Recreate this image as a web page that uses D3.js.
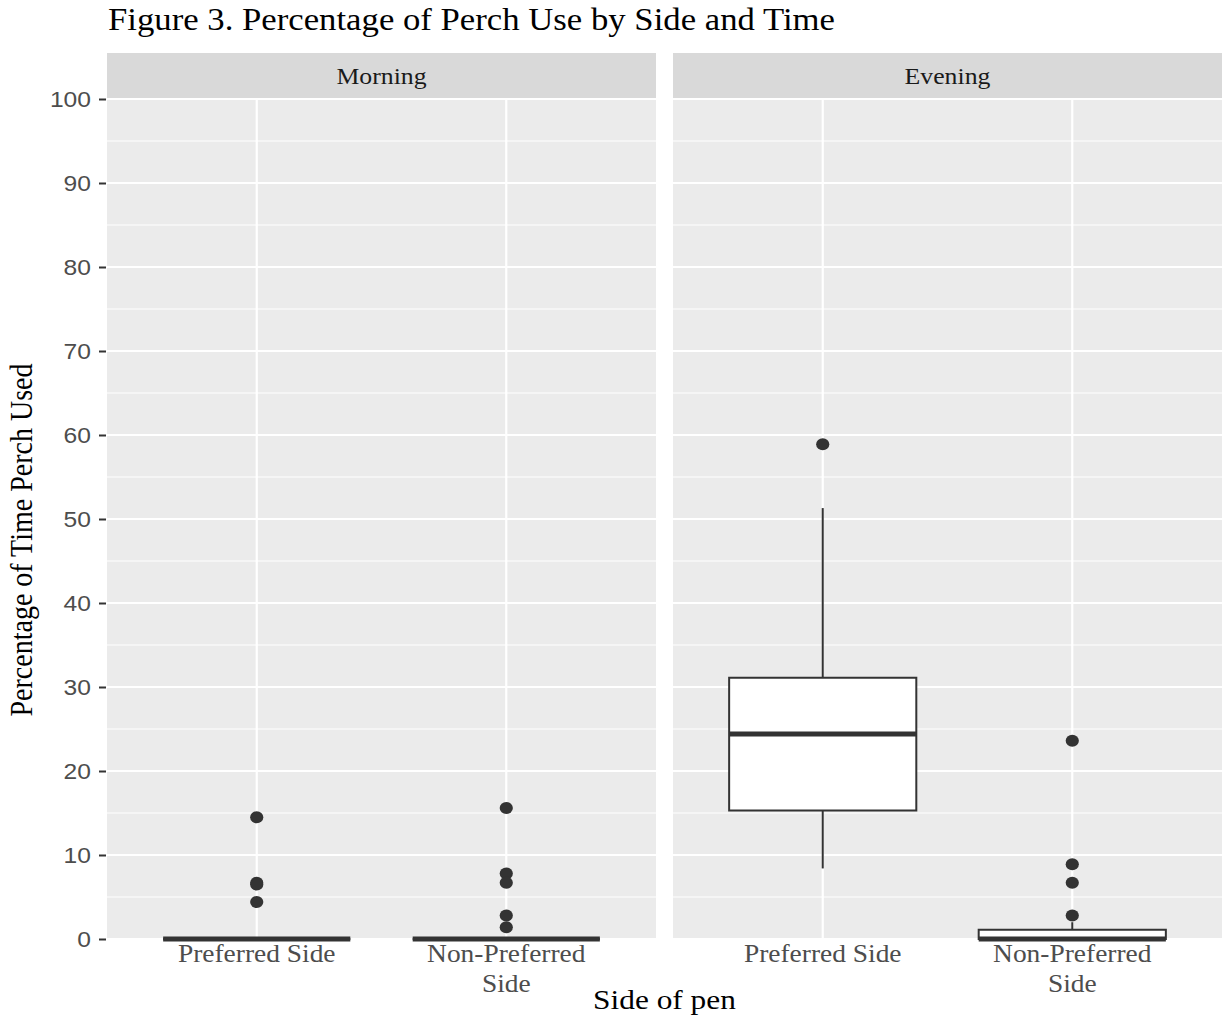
<!DOCTYPE html>
<html>
<head>
<meta charset="utf-8">
<script src="https://cdn.jsdelivr.net/npm/d3@7"></script>
<style>
  body { margin: 0; background: #fff; }
</style>
</head>
<body>
<script>
const WIDTH  = 1225;
const HEIGHT = 1018;
const STRETCH = 1.12;   // the source picture is a little wider than tall, text is stretched sideways

const SERIF = "'Liberation Serif', 'Times New Roman', serif";
const SANS  = "'Liberation Sans', Arial, sans-serif";

// Facets and categories
const times = ["Morning", "Evening"];
const sides = ["Preferred Side", "Non-Preferred Side"];
const sideLabelLines = [["Preferred Side"], ["Non-Preferred", "Side"]];

// Box statistics, [time][side]
const whiskerLow  = [[0, 0], [8.4, 0]];
const quart1      = [[0, 0], [15.3, 0]];
const medians     = [[0, 0], [24.4, 0]];
const quart3      = [[0, 0], [31.1, 1.1]];
const whiskerHigh = [[0, 0], [51.3, 2.0]];
const outliers    = [
  [[14.5, 6.7, 6.5, 4.4], [15.6, 7.8, 6.7, 2.8, 1.4]],
  [[58.9],                [23.6, 8.9, 6.7, 2.8]]
];

const yTicks = [0, 10, 20, 30, 40, 50, 60, 70, 80, 90, 100];
const yMinor = [5, 15, 25, 35, 45, 55, 65, 75, 85, 95];

// Plot area
const PANEL_LEFT = 107, PANEL_RIGHT = 1222;
const PANEL_TOP = 99, PANEL_BOTTOM = 939;
const STRIP_H = 46;

const svg = d3.select("body").append("svg")
  .attr("width", WIDTH)
  .attr("height", HEIGHT);

// writes a text stretched sideways like the source
function addText(g, x, y, str, size, family, color, anchor, rotate) {
  return g.append("text")
    .attr("transform", "translate(" + x + "," + y + ")" +
          (rotate ? " rotate(-90) scale(1," + STRETCH + ")" : " scale(" + STRETCH + ",1)"))
    .attr("text-anchor", anchor || "middle")
    .style("font-family", family)
    .style("font-size", size + "px")
    .style("fill", color)
    .text(str);
}

// Scales
const gap = 17;
const facetX = d3.scaleBand()
  .domain(times)
  .range([PANEL_LEFT, PANEL_RIGHT])
  .paddingInner(2 * gap / (PANEL_RIGHT - PANEL_LEFT + gap));
const panelW = facetX.bandwidth();

const xIn = d3.scalePoint()
  .domain(sides)
  .range([0, panelW])
  .padding(0.6);
const boxW = xIn.step() * 0.75;

const y = d3.scaleLinear()
  .domain([0, 100])
  .range([PANEL_BOTTOM, PANEL_TOP]);

// Title
addText(svg, 108, 30, "Figure 3. Percentage of Perch Use by Side and Time", 31, SERIF, "#000", "start");

// Panels
times.forEach((t, ti) => {
  const g = svg.append("g").attr("transform", "translate(" + facetX(t) + ",0)");

  // strip
  g.append("rect")
    .attr("x", 0).attr("y", PANEL_TOP - STRIP_H)
    .attr("width", panelW).attr("height", STRIP_H)
    .style("fill", "#D9D9D9");
  addText(g, panelW / 2, PANEL_TOP - STRIP_H / 2 + 8, t, 23, SERIF, "#1A1A1A");

  // panel background
  g.append("rect")
    .attr("x", 0).attr("y", PANEL_TOP)
    .attr("width", panelW).attr("height", PANEL_BOTTOM - PANEL_TOP)
    .style("fill", "#EBEBEB");

  // grid
  g.selectAll(".minor").data(yMinor).enter().append("line")
    .attr("x1", 0).attr("x2", panelW)
    .attr("y1", d => y(d)).attr("y2", d => y(d))
    .style("stroke", "#fff").style("stroke-width", 1.1);
  g.selectAll(".major").data(yTicks).enter().append("line")
    .attr("x1", 0).attr("x2", panelW)
    .attr("y1", d => y(d)).attr("y2", d => y(d))
    .style("stroke", "#fff").style("stroke-width", 2.2);
  g.selectAll(".vgrid").data(sides).enter().append("line")
    .attr("x1", d => xIn(d)).attr("x2", d => xIn(d))
    .attr("y1", PANEL_TOP).attr("y2", PANEL_BOTTOM)
    .style("stroke", "#fff").style("stroke-width", 2.2);

  // boxplots
  sides.forEach((s, si) => {
    const cx = xIn(s);
    const x0 = cx - boxW / 2, x1 = cx + boxW / 2;
    const lineColor = "#333333";

    g.append("line")
      .attr("x1", cx).attr("x2", cx)
      .attr("y1", y(quart3[ti][si])).attr("y2", y(whiskerHigh[ti][si]))
      .style("stroke", lineColor).style("stroke-width", 2);
    g.append("line")
      .attr("x1", cx).attr("x2", cx)
      .attr("y1", y(quart1[ti][si])).attr("y2", y(whiskerLow[ti][si]))
      .style("stroke", lineColor).style("stroke-width", 2);

    // box as a path so a collapsed box still draws
    g.append("path")
      .attr("d", "M" + x0 + "," + y(quart3[ti][si]) + "H" + x1 + "V" + y(quart1[ti][si]) + "H" + x0 + "Z")
      .style("fill", "#fff")
      .style("stroke", lineColor).style("stroke-width", 2);

    g.append("line")
      .attr("x1", x0).attr("x2", x1)
      .attr("y1", y(medians[ti][si])).attr("y2", y(medians[ti][si]))
      .style("stroke", lineColor).style("stroke-width", 5);

    g.selectAll(".out" + si).data(outliers[ti][si]).enter().append("ellipse")
      .attr("cx", cx).attr("cy", d => y(d))
      .attr("rx", 6.6).attr("ry", 6)
      .style("fill", lineColor);

    // x tick labels
    sideLabelLines[si].forEach((line, li) => {
      addText(g, cx, PANEL_BOTTOM + 23 + li * 30, line, 24.5, SERIF, "#4D4D4D");
    });
  });
});

// Y axis (ticks only, labels stretched like the rest)
const yAxis = d3.axisLeft(y).tickValues(yTicks).tickSize(7).tickPadding(8);
const yg = svg.append("g")
  .attr("transform", "translate(" + (PANEL_LEFT - 1) + ",0)")
  .call(yAxis);
yg.select(".domain").remove();
yg.selectAll(".tick line").style("stroke", "#333").style("stroke-width", 2);
yg.selectAll(".tick text")
  .attr("x", -15 / STRETCH)
  .attr("transform", "scale(" + STRETCH + ",1)")
  .style("font-family", SANS)
  .style("font-size", "22px")
  .style("fill", "#4D4D4D");

// Axis titles
addText(svg, (PANEL_LEFT + PANEL_RIGHT) / 2, 1009, "Side of pen", 28, SERIF, "#000");
addText(svg, 32, 540, "Percentage of Time Perch Used", 28, SERIF, "#000", "middle", true);
</script>
</body>
</html>
